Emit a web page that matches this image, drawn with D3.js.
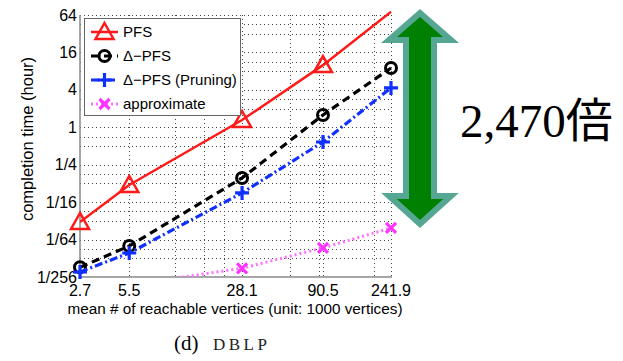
<!DOCTYPE html>
<html><head><meta charset="utf-8">
<script src="https://cdn.jsdelivr.net/npm/d3@7"></script>
<style>body{margin:0;background:#fff} svg{display:block}</style>
</head><body><svg id="c" width="623" height="361"></svg>
<script>
// ---- data ----
const xValues = [2.7, 5.5, 28.1, 90.5, 241.9];
const xTickLabels = ["2.7", "5.5", "28.1", "90.5", "241.9"];
const xMinorGrid = [10.7, 16.1, 21.5, 56, 85.6, 188];
const yTicks = [1/256, 1/64, 1/16, 1/4, 1, 4, 16, 64];
const yTickLabels = ["1/256", "1/64", "1/16", "1/4", "1", "4", "16", "64"];
const yMinorGrid = [45.25, 32, 11.31, 8, 2.83, 2, 0.707, 0.5, 0.177, 0.125, 0.0442, 0.03125, 0.011, 0.0078];
const seriesNames = ["PFS", "\u0394\u2212PFS", "\u0394\u2212PFS (Pruning)", "approximate"];
const pfs = [0.030, 0.118, 1.31, 10.0, 72];
const dpfs = [0.0056, 0.0123, 0.153, 1.58, 9.0];
const dpfsPruning = [0.0047, 0.0095, 0.088, 0.58, 4.3];
const approximate = [0.0016, 0.0029, 0.0054, 0.0115, 0.024];
const xLabel = "mean # of reachable vertices (unit: 1000 vertices)";
const yLabel = "completion time (hour)";
const annotation = "2,470\u500D";
const captionA = "(d)", captionB = "DBLP";

// ---- layout ----
const svg = d3.select("#c");
const L = 80, R = 391, T = 15, B = 277;
const x = d3.scaleLog().domain([2.7, 241.9]).range([L, R]);
const y = d3.scaleLog().base(2).domain([1/256, 64]).range([B, T]);
const font = "Liberation Sans, Arial, sans-serif";

svg.append("defs").append("clipPath").attr("id", "clip")
  .append("rect").attr("x", L).attr("y", 11).attr("width", R - L + 2).attr("height", B - 11);

// grid
const grid = svg.append("g").attr("stroke", "#444").attr("stroke-width", 1).attr("stroke-dasharray", "1,3");
xValues.slice(1).concat(xMinorGrid).forEach(v => {
  grid.append("line").attr("x1", Math.round(x(v)) + 0.5).attr("x2", Math.round(x(v)) + 0.5).attr("y1", T).attr("y2", B);
});
yTicks.slice(1).concat(yMinorGrid).forEach(v => {
  grid.append("line").attr("y1", Math.round(y(v)) + 0.5).attr("y2", Math.round(y(v)) + 0.5).attr("x1", L).attr("x2", R);
});

// axes
svg.append("line").attr("x1", L).attr("x2", L).attr("y1", T).attr("y2", B).attr("stroke", "#888").attr("stroke-width", 1.5);
svg.append("line").attr("x1", L).attr("x2", R + 1).attr("y1", B).attr("y2", B).attr("stroke", "#888").attr("stroke-width", 1.5);

svg.append("g").selectAll("text").data(yTicks).join("text")
  .attr("x", L - 3).attr("y", d => y(d)).attr("dy", "0.35em")
  .attr("text-anchor", "end").attr("font-family", font).attr("font-size", 16)
  .text((d, i) => yTickLabels[i]);
svg.append("g").selectAll("text").data(xValues).join("text")
  .attr("x", d => x(d)).attr("y", 296)
  .attr("text-anchor", "middle").attr("font-family", font).attr("font-size", 16)
  .text((d, i) => xTickLabels[i]);

svg.append("text").attr("x", 235).attr("y", 314).attr("text-anchor", "middle")
  .attr("font-family", font).attr("font-size", 15.3).text(xLabel);
svg.append("text").attr("transform", "translate(33,139) rotate(-90)").attr("text-anchor", "middle")
  .attr("font-family", font).attr("font-size", 16.5).text(yLabel);

// markers
function drawMarker(g, type, cx, cy, color) {
  if (type === "tri") {
    g.append("path").attr("d", `M${cx},${cy-9}L${cx+9},${cy+7}L${cx-9},${cy+7}Z`)
      .attr("fill", "none").attr("stroke", color).attr("stroke-width", 2.5);
  } else if (type === "circ") {
    g.append("circle").attr("cx", cx).attr("cy", cy).attr("r", 5.5)
      .attr("fill", "none").attr("stroke", color).attr("stroke-width", 3);
  } else if (type === "plus") {
    g.append("path").attr("d", `M${cx-7},${cy}H${cx+7}M${cx},${cy-7}V${cy+7}`)
      .attr("stroke", color).attr("stroke-width", 3.2);
  } else {
    g.append("path").attr("d", `M${cx-5},${cy-5}L${cx+5},${cy+5}M${cx-5},${cy+5}L${cx+5},${cy-5}`)
      .attr("stroke", color).attr("stroke-width", 3.2);
  }
}

const series = [
  {name: seriesNames[0], vals: pfs, color: "#ff1a1a", lineColor: "#ff1a1a", dash: null, width: 2.5, marker: "tri"},
  {name: seriesNames[1], vals: dpfs, color: "#000", lineColor: "#000", dash: "8,5", width: 3.2, marker: "circ"},
  {name: seriesNames[2], vals: dpfsPruning, color: "#1030ff", lineColor: "#1030ff", dash: "8,3,2,3", width: 3.2, marker: "plus"},
  {name: seriesNames[3], vals: approximate, color: "#ff33ff", lineColor: "#ff70ff", dash: "2,3", width: 3, marker: "x"}
];
const line = d3.line().x(d => x(d[0])).y(d => y(d[1]));
series.forEach(s => {
  const pts = xValues.map((v, i) => [v, s.vals[i]]);
  svg.append("path").attr("d", line(pts)).attr("clip-path", "url(#clip)")
    .attr("fill", "none").attr("stroke", s.lineColor).attr("stroke-width", s.width)
    .attr("stroke-dasharray", s.dash);
  const g = svg.append("g");
  pts.filter(p => p[1] >= 1/256 && p[1] <= 64).forEach(p => drawMarker(g, s.marker, x(p[0]), y(p[1]), s.color));
});

// legend
const lg = svg.append("g");
lg.append("rect").attr("x", 84.5).attr("y", 18.5).attr("width", 156).attr("height", 97)
  .attr("fill", "#fff").attr("stroke", "#666").attr("stroke-width", 1);
series.forEach((s, i) => {
  const ly = 32 + i * 24;
  lg.append("line").attr("x1", 91).attr("x2", 118).attr("y1", ly).attr("y2", ly)
    .attr("stroke", s.lineColor).attr("stroke-width", s.width).attr("stroke-dasharray", s.dash);
  drawMarker(lg, s.marker, 104.5, ly, s.color);
  lg.append("text").attr("x", 123).attr("y", ly).attr("dy", "0.35em")
    .attr("font-family", font).attr("font-size", 15).text(s.name);
});

// double arrow annotation
const ax = 420;
const arrowPath = `M${ax},13 L${ax+31},40 L${ax+14},40 L${ax+14},196 L${ax+31},196 L${ax},224 L${ax-31},196 L${ax-14},196 L${ax-14},40 L${ax-31},40 Z`;
svg.append("path").attr("d", arrowPath).attr("fill", "#008000").attr("stroke", "#55a692")
  .attr("stroke-width", 6).attr("stroke-linejoin", "miter");

svg.append("text").attr("x", 460).attr("y", 137).attr("font-family", "Liberation Serif, 'Noto Sans CJK JP', serif")
  .attr("font-size", 47).text(annotation);

svg.append("text").attr("x", 174).attr("y", 350).attr("font-family", "Liberation Serif, serif")
  .attr("font-size", 21).text(captionA);
svg.append("text").attr("x", 213).attr("y", 350).attr("font-family", "Liberation Serif, serif")
  .attr("font-size", 17).attr("fill", "#222").attr("letter-spacing", 3.5).text(captionB);
</script></body></html>
